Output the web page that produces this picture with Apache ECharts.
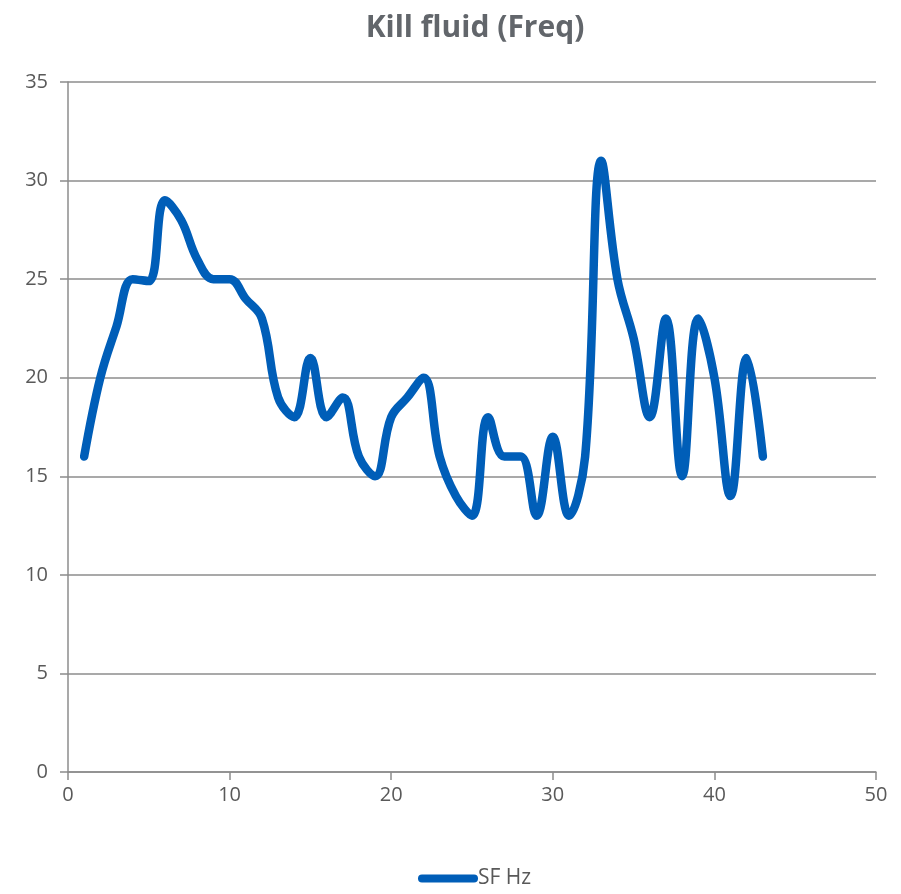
<!DOCTYPE html>
<html>
<head>
<meta charset="utf-8">
<script src="https://cdn.jsdelivr.net/npm/echarts@6/dist/echarts.min.js"></script>
<style>
  html, body { margin: 0; padding: 0; background: #fff; }
  #chart { width: 901px; height: 894px; }
</style>
</head>
<body>
<div id="chart"></div>
<script>
// Sample index (x) and measured frequency in Hz (y)
const sampleIndex = [1, 2, 3, 4, 5, 6, 7, 8, 9, 10, 11, 12, 13, 14, 15, 16, 17, 18, 19, 20, 21, 22,
  23, 24, 25, 26, 27, 28, 29, 30, 31, 32, 33, 34, 35, 36, 37, 38, 39, 40, 41, 42, 43];
const sfHz = [16, 20, 22.6, 25, 24.9, 29, 28, 26, 25, 25, 24, 23, 19, 18, 21, 18, 19, 16, 15, 18, 19, 20,
  16, 14, 13, 18, 16, 16, 13, 17, 13, 16, 31, 25, 22, 18, 23, 15, 23, 20, 14, 21, 16];
const xTicks = [0, 10, 20, 30, 40, 50];
const yTicks = [0, 5, 10, 15, 20, 25, 30, 35];

const seriesName = 'SF Hz';
const chartTitle = 'Kill fluid (Freq)';

const FONT = '"Open Sans", "Liberation Sans", sans-serif';
const TEXT_GREY = '#595959';
const AXIS_GREY = '#8c8c8c';
const LINE_BLUE = '#005EB8';

const chart = echarts.init(document.getElementById('chart'), null, { renderer: 'canvas' });

chart.setOption({
  animation: false,
  backgroundColor: '#ffffff',
  title: {
    text: chartTitle,
    left: 470,
    top: 8,
    textAlign: 'center',
    textStyle: { fontFamily: FONT, fontSize: 30, fontWeight: 'bold', color: '#62666b' }
  },
  grid: { left: 68, right: 25, top: 82, bottom: 122, containLabel: false },
  legend: {
    data: [{ name: seriesName, icon: 'path://M4,0 H56 A4,4 0 0 1 56,8 H4 A4,4 0 0 1 4,0 Z' }],
    left: 413,
    bottom: 0,
    itemWidth: 60,
    itemHeight: 8,
    itemGap: 0,
    textStyle: { fontFamily: FONT, fontSize: 21, color: TEXT_GREY, padding: [0, 0, 0, -5] }
  },
  xAxis: {
    type: 'value',
    min: xTicks[0],
    max: xTicks[xTicks.length - 1],
    interval: xTicks[1] - xTicks[0],
    axisLine: { show: true, lineStyle: { color: AXIS_GREY, width: 1.5 } },
    axisTick: { show: true, length: 8, lineStyle: { color: AXIS_GREY, width: 1.5 } },
    axisLabel: { fontFamily: FONT, fontSize: 20, color: TEXT_GREY, margin: 13 },
    splitLine: { show: false }
  },
  yAxis: {
    type: 'value',
    min: yTicks[0],
    max: yTicks[yTicks.length - 1],
    interval: yTicks[1] - yTicks[0],
    axisLine: { show: true, lineStyle: { color: AXIS_GREY, width: 1.5 } },
    axisTick: { show: true, length: 8, lineStyle: { color: AXIS_GREY, width: 1.5 } },
    axisLabel: { fontFamily: FONT, fontSize: 20, color: TEXT_GREY, margin: 20 },
    splitLine: { show: true, lineStyle: { color: AXIS_GREY, width: 1.5 } }
  },
  series: [{
    name: seriesName,
    type: 'line',
    data: sampleIndex.map((x, i) => [x, sfHz[i]]),
    smooth: 0.4,
    showSymbol: false,
    symbol: 'none',
    lineStyle: { color: LINE_BLUE, width: 8.5, cap: 'round', join: 'round' },
    itemStyle: { color: LINE_BLUE }
  }]
});
</script>
</body>
</html>
